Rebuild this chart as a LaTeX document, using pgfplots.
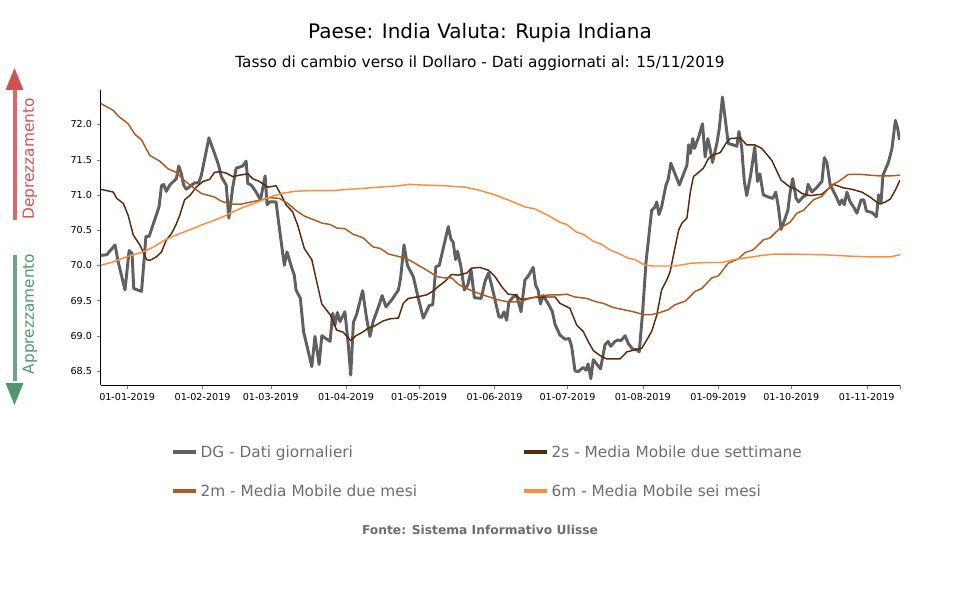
\documentclass[border=0pt]{standalone}
\usepackage{fontspec}
\setmainfont{DejaVu Sans}
\usepackage{pgfplots}
\pgfplotsset{compat=1.18}
\definecolor{cDG}{RGB}{96,96,96}
\definecolor{cTwoS}{RGB}{90,42,10}
\definecolor{cTwoM}{RGB}{175,90,30}
\definecolor{cSixM}{RGB}{255,140,60}
\definecolor{cRed}{RGB}{210,80,80}
\definecolor{cGreen}{RGB}{80,150,110}
\definecolor{cText}{RGB}{110,110,110}
\begin{document}
\begin{tikzpicture}[x=0.75pt,y=0.75pt]
\path[use as bounding box] (0,0) rectangle (960,600);
\begin{axis}[
  at={(75.5pt,161.25pt)}, anchor=south west,
  scale only axis, width=599.5pt, height=221.25pt,
  xmin=-10.9, xmax=317.7, ymin=68.30, ymax=72.49,
  axis x line*=bottom, axis y line*=left,
  tick align=outside, major tick length=3pt,
  xtick={0,31,59,90,120,151,181,212,243,273,304},
  xticklabels={01-01-2019,01-02-2019,01-03-2019,01-04-2019,01-05-2019,01-06-2019,01-07-2019,01-08-2019,01-09-2019,01-10-2019,01-11-2019},
  extra x ticks={317.7}, extra x tick labels={},
  ytick={68.5,69,69.5,70,70.5,71,71.5,72},
  yticklabel style={/pgf/number format/.cd, fixed, fixed zerofill, precision=1, assume math mode=true},
  tick label style={font=\fontsize{7.2}{8}\selectfont},
  every axis plot/.append style={line join=round},
  legend columns=2,
  legend style={at={(0.083,-0.186)}, anchor=north west, draw=none, fill=none,
    font=\fontsize{11.5}{13}\selectfont, text=cText, row sep=15pt,
    /tikz/every even column/.append style={column sep=77pt}},
  legend cell align=left,
  legend image code/.code={\draw[#1, line width=3pt] (0pt,0pt) -- (17pt,0pt);},
]
\addplot[cDG, line width=2.2pt] coordinates {
(-10.9,70.14) (-8.4,70.15) (-5.0,70.29) (-3.7,70.05) (-0.9,69.65) (0.8,70.21) (2.0,70.17) (2.7,69.67) (5.9,69.63) (7.7,70.41) (9.0,70.41) (13.1,70.83) (14.1,71.13) (15.0,71.15) (16.1,71.05) (17.5,71.14) (20.2,71.23) (21.2,71.41) (22.3,71.30) (23.2,71.14) (24.3,71.08) (27.7,71.17) (29.4,71.17) (30.5,71.28) (33.6,71.81) (35.9,71.59) (37.6,71.42) (38.7,71.26) (40.7,71.14) (41.8,70.67) (43.4,71.11) (44.8,71.38) (47.5,71.41) (48.9,71.48) (49.6,71.16) (51.0,71.14) (53.0,71.04) (54.8,70.93) (56.7,71.27) (57.5,70.86) (58.5,70.90) (61.2,70.90) (62.6,70.52) (64.6,70.00) (65.7,70.19) (67.6,69.97) (68.7,69.86) (69.4,69.65) (71.2,69.53) (72.5,69.06) (75.9,68.56) (77.2,68.99) (78.9,68.59) (80.0,69.00) (83.4,68.92) (84.5,69.32) (85.4,69.15) (86.4,69.33) (87.5,69.20) (89.5,69.34) (90.9,68.87) (91.9,68.44) (93.0,69.19) (94.3,69.30) (96.8,69.64) (98.4,69.25) (99.8,68.99) (101.1,69.20) (103.6,69.44) (104.8,69.57) (106.4,69.41) (108.8,69.51) (111.5,69.65) (112.4,69.82) (113.8,70.29) (115.2,70.00) (117.6,69.84) (119.7,69.53) (121.7,69.25) (124.2,69.43) (125.6,69.44) (126.9,69.98) (128.3,70.00) (130.6,70.34) (132.0,70.55) (133.1,70.37) (134.0,70.33) (135.0,70.08) (135.8,70.20) (137.2,69.98) (138.6,69.65) (140.0,69.72) (141.4,69.93) (142.7,69.54) (145.5,69.53) (147.1,69.77) (148.5,69.89) (149.8,69.72) (151.2,69.51) (152.8,69.27) (153.9,69.26) (154.9,69.34) (156.0,69.22) (156.9,69.48) (158.7,69.55) (160.1,69.58) (161.9,69.34) (163.5,69.79) (165.1,69.86) (166.9,69.97) (167.9,69.72) (168.9,69.65) (169.9,69.45) (171.0,69.57) (173.0,69.46) (174.8,69.34) (175.9,69.16) (177.9,69.01) (180.0,68.95) (181.7,68.96) (182.7,68.85) (184.1,68.50) (185.4,68.49) (187.5,68.55) (188.6,68.51) (189.5,68.60) (190.6,68.39) (191.6,68.66) (193.2,68.59) (194.6,68.53) (196.4,68.87) (197.7,68.92) (198.7,68.85) (200.6,68.92) (201.9,68.94) (203.0,68.93) (204.7,69.00) (206.0,68.89) (207.8,68.81) (209.5,68.80) (210.5,68.77) (211.9,69.34) (213.3,70.05) (215.6,70.78) (217.0,70.83) (217.7,70.90) (218.6,70.72) (219.7,70.83) (221.5,71.14) (222.4,71.22) (223.5,71.45) (225.2,71.30) (227.0,71.14) (228.3,71.26) (230.1,71.42) (230.8,71.71) (231.5,71.59) (232.5,71.80) (233.2,71.66) (234.9,71.82) (236.5,72.01) (237.6,71.54) (238.7,71.80) (239.6,71.66) (240.6,71.46) (242.4,71.73) (243.4,71.94) (244.7,72.39) (245.8,72.09) (247.1,71.73) (249.2,71.71) (250.6,71.69) (251.5,71.90) (252.6,71.68) (253.7,71.19) (254.7,70.99) (256.4,71.30) (258.0,71.68) (259.1,71.19) (260.1,71.30) (261.5,71.00) (263.6,70.97) (265.4,70.95) (266.6,71.04) (267.7,70.83) (268.8,70.51) (270.2,70.64) (271.6,70.78) (272.5,71.03) (273.6,71.23) (275.0,70.95) (276.0,70.90) (277.8,70.97) (279.2,71.00) (279.9,71.15) (281.5,71.04) (283.3,71.10) (285.6,71.19) (286.6,71.53) (287.7,71.45) (289.0,71.14) (290.1,71.07) (291.8,70.95) (292.9,70.86) (293.8,70.93) (294.8,70.86) (295.9,71.04) (297.2,70.90) (298.6,70.83) (300.0,70.74) (301.7,70.93) (302.8,70.93) (303.9,70.77) (306.2,70.75) (308.0,70.69) (308.9,71.00) (309.9,70.90) (310.7,71.28) (313.0,71.47) (314.4,71.66) (315.8,72.06) (316.7,71.95) (317.5,71.78)
};
\addlegendentry{DG - Dati giornalieri}
\addplot[cTwoS, line width=1.1pt] coordinates {
(-10.9,71.08) (-5.7,71.04) (-4.3,70.95) (-1.6,70.88) (0.4,70.71) (2.5,70.43) (5.2,70.29) (6.6,70.19) (8.0,70.08) (9.3,70.07) (12.0,70.12) (14.1,70.19) (16.1,70.36) (18.2,70.45) (20.0,70.57) (21.6,70.71) (23.6,70.93) (26.0,71.00) (28.4,71.11) (31.1,71.19) (33.9,71.22) (35.9,71.32) (38.0,71.33) (40.7,71.31) (43.4,71.26) (46.2,71.28) (49.6,71.30) (51.6,71.23) (54.4,71.19) (57.8,71.11) (61.2,71.13) (63.3,71.00) (65.3,70.86) (68.0,70.76) (70.1,70.57) (72.8,70.24) (75.9,70.08) (77.9,69.77) (80.0,69.45) (83.4,69.30) (86.1,69.08) (88.8,69.05) (91.9,68.93) (94.0,69.00) (96.8,69.05) (99.1,69.11) (101.8,69.14) (105.2,69.21) (108.1,69.24) (111.5,69.25) (113.5,69.46) (115.6,69.53) (119.0,69.55) (123.1,69.58) (125.6,69.63) (127.9,69.70) (130.6,69.77) (133.3,69.87) (136.1,69.86) (139.6,69.89) (141.6,69.96) (145.0,69.97) (148.5,69.93) (151.2,69.84) (153.9,69.70) (156.6,69.59) (159.4,69.58) (162.1,69.51) (166.2,69.54) (170.3,69.55) (175.9,69.55) (177.9,69.46) (182.0,69.39) (184.8,69.15) (187.5,69.06) (189.5,68.92) (191.6,68.79) (194.3,68.72) (197.1,68.67) (199.8,68.67) (202.6,68.67) (205.4,68.77) (208.8,68.80) (211.5,68.82) (213.6,68.94) (215.6,69.06) (217.7,69.29) (219.7,69.65) (221.8,69.79) (223.2,69.91) (225.2,70.25) (226.7,70.50) (228.1,70.60) (230.1,70.67) (231.5,71.04) (232.8,71.26) (234.9,71.32) (236.9,71.38) (239.0,71.52) (241.0,71.57) (243.8,71.60) (246.1,71.73) (247.9,71.80) (252.0,71.81) (254.7,71.71) (258.0,71.71) (260.9,71.66) (265.0,71.49) (268.8,71.21) (272.5,71.11) (274.6,71.09) (277.4,71.02) (280.8,70.99) (285.6,71.01) (287.7,71.07) (290.3,71.15) (294.4,71.10) (297.9,71.08) (302.0,71.04) (305.4,70.97) (308.0,70.90) (309.6,70.87) (311.7,70.90) (313.7,70.94) (315.8,71.07) (317.7,71.21)
};
\addlegendentry{2s - Media Mobile due settimane}
\addplot[cTwoM, line width=1.1pt] coordinates {
(-10.9,72.30) (-5.7,72.20) (-3.7,72.12) (0.4,72.01) (3.2,71.86) (5.9,71.78) (9.3,71.56) (13.4,71.48) (16.8,71.37) (20.2,71.32) (23.6,71.20) (27.0,71.11) (30.5,71.02) (35.9,70.97) (38.7,70.91) (42.8,70.87) (46.9,70.87) (51.0,70.90) (55.1,70.93) (58.5,70.96) (62.6,70.95) (66.0,70.88) (69.4,70.78) (72.8,70.70) (77.2,70.64) (80.0,70.60) (83.4,70.58) (86.1,70.53) (89.5,70.52) (92.9,70.44) (97.0,70.39) (101.1,70.26) (104.0,70.24) (107.4,70.16) (112.2,70.12) (116.3,70.07) (119.7,70.00) (123.2,69.93) (127.3,69.84) (130.6,69.82) (133.4,69.82) (136.2,69.73) (139.6,69.67) (143.0,69.62) (147.1,69.57) (152.5,69.51) (156.6,69.48) (161.4,69.48) (165.5,69.53) (170.3,69.57) (174.5,69.58) (177.9,69.58) (180.7,69.59) (184.1,69.55) (188.9,69.53) (193.0,69.48) (195.7,69.46) (199.9,69.40) (204.0,69.37) (208.1,69.34) (212.3,69.30) (215.7,69.30) (219.1,69.33) (222.5,69.37) (225.2,69.44) (229.4,69.49) (233.5,69.63) (236.2,69.67) (240.3,69.82) (243.0,69.85) (247.1,70.03) (251.2,70.09) (254.0,70.18) (257.4,70.22) (261.5,70.36) (264.3,70.39) (268.4,70.53) (272.5,70.61) (275.3,70.74) (278.0,70.78) (282.1,70.93) (285.6,70.98) (289.6,71.14) (292.4,71.19) (296.5,71.29) (302.0,71.29) (305.4,71.28) (309.6,71.27) (313.7,71.27) (317.7,71.28)
};
\addlegendentry{2m - Media Mobile due mesi}
\addplot[cSixM, line width=1.1pt] coordinates {
(-10.9,70.00) (-5.7,70.05) (-0.3,70.12) (6.6,70.19) (10.7,70.26) (16.1,70.37) (21.6,70.45) (27.0,70.52) (31.1,70.58) (35.9,70.64) (40.0,70.70) (44.1,70.77) (48.2,70.83) (53.0,70.89) (57.8,70.96) (63.3,71.02) (68.7,71.05) (74.2,71.06) (83.4,71.06) (91.6,71.08) (99.8,71.10) (107.4,71.12) (112.2,71.13) (115.6,71.15) (121.7,71.14) (130.6,71.13) (138.9,71.11) (144.4,71.07) (151.2,71.00) (158.0,70.91) (163.5,70.83) (167.6,70.80) (173.0,70.71) (177.9,70.61) (180.7,70.58) (184.8,70.47) (187.5,70.44) (191.6,70.34) (195.0,70.30) (198.4,70.22) (201.9,70.17) (206.0,70.10) (208.8,70.08) (212.9,70.00) (216.3,69.99) (220.4,69.99) (225.2,69.99) (232.0,70.03) (239.0,70.04) (244.5,70.04) (249.2,70.08) (255.3,70.11) (260.8,70.14) (266.3,70.16) (272.5,70.16) (286.2,70.15) (297.2,70.13) (305.4,70.12) (313.7,70.12) (317.7,70.15)
};
\addlegendentry{6m - Media Mobile sei mesi}
\end{axis}
\node[font=\fontsize{15}{17}\selectfont] at (480,567) {Paese: India Valuta: Rupia Indiana};
\node[font=\fontsize{11.5}{13}\selectfont] at (480,537) {Tasso di cambio verso il Dollaro - Dati aggiornati al: 15/11/2019};
\node[font=\bfseries\fontsize{9.2}{11}\selectfont, text=cText] at (480,70) {Fonte: Sistema Informativo Ulisse};
% side arrows
\draw[cRed!85, line width=3pt] (14.5,380) -- (14.5,512);
\fill[cRed] (14.5,532) -- (5.5,510) -- (23.5,510) -- cycle;
\draw[cGreen!85, line width=3pt] (14.5,345) -- (14.5,219);
\fill[cGreen] (14.5,195) -- (5.5,217) -- (23.5,217) -- cycle;
\node[rotate=90, text=cRed, font=\fontsize{11.5}{13}\selectfont] at (30,441) {Deprezzamento};
\node[rotate=90, text=cGreen, font=\fontsize{11.5}{13}\selectfont] at (30,286) {Apprezzamento};
\end{tikzpicture}
\end{document}
